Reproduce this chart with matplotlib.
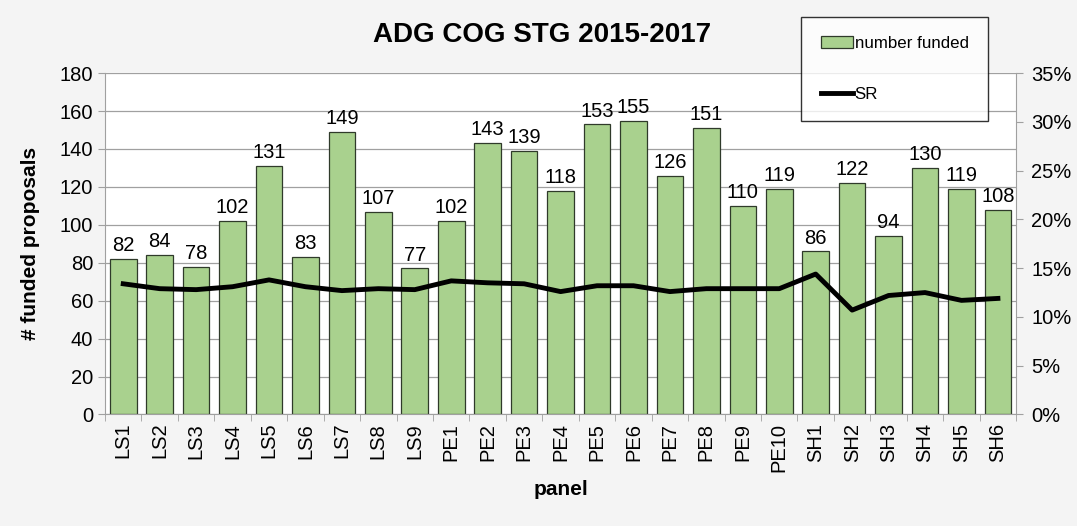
import matplotlib.pyplot as plt
import numpy as np
from matplotlib.ticker import PercentFormatter

plt.rcParams['font.family'] = ['Liberation Sans', 'DejaVu Sans']

panels = ['LS1', 'LS2', 'LS3', 'LS4', 'LS5', 'LS6', 'LS7', 'LS8', 'LS9',
          'PE1', 'PE2', 'PE3', 'PE4', 'PE5', 'PE6', 'PE7', 'PE8', 'PE9', 'PE10',
          'SH1', 'SH2', 'SH3', 'SH4', 'SH5', 'SH6']
funded = [82, 84, 78, 102, 131, 83, 149, 107, 77,
          102, 143, 139, 118, 153, 155, 126, 151, 110, 119,
          86, 122, 94, 130, 119, 108]
sr = [13.4, 12.9, 12.8, 13.1, 13.8, 13.1, 12.7, 12.9, 12.8,
      13.7, 13.5, 13.4, 12.6, 13.2, 13.2, 12.6, 12.9, 12.9, 12.9,
      14.4, 10.7, 12.2, 12.5, 11.7, 11.9]

fig = plt.figure(figsize=(10.77, 5.26), dpi=100, facecolor='#f4f4f4')
ax = fig.add_axes([0.0975, 0.212, 0.846, 0.649])
ax.set_facecolor('white')

x = np.arange(len(panels))
bars = ax.bar(x, funded, width=0.73, color='#a9d18e', edgecolor='#2f3a2a',
              linewidth=0.9, label='number funded', zorder=2)
for xi, v in zip(x, funded):
    ax.text(xi, v + 2, str(v), ha='center', va='bottom', fontsize=14.5)

ax.set_ylim(0, 180)
ax.set_yticks(range(0, 181, 20))
ax.set_xlim(-0.5, len(panels) - 0.5)
# category labels at centres, tick marks at category boundaries
ax.set_xticks(x)
ax.set_xticklabels(panels, rotation=90, fontsize=14.5)
ax.tick_params(axis='x', which='major', length=0, pad=6)
ax.set_xticks(np.arange(-0.5, len(panels), 1), minor=True)
ax.tick_params(axis='x', which='minor', length=5, color='#a0a0a0')
ax.tick_params(axis='y', labelsize=14.5, length=5, color='#a0a0a0')
ax.grid(axis='y', color='#a0a0a0', linewidth=0.9, zorder=0)
ax.set_axisbelow(True)
for s in ['top', 'right']:
    ax.spines[s].set_visible(False)
ax.spines['left'].set_color('#a0a0a0')
ax.spines['bottom'].set_color('#a0a0a0')
ax.set_ylabel('# funded proposals', fontsize=15, fontweight='bold', labelpad=14)
ax.set_xlabel('panel', fontsize=15, fontweight='bold', labelpad=6)

ax2 = ax.twinx()
line, = ax2.plot(x, sr, color='black', linewidth=3.5, label='SR', zorder=3)
ax2.set_ylim(0, 35)
ax2.set_yticks(range(0, 36, 5))
ax2.yaxis.set_major_formatter(PercentFormatter(decimals=0))
ax2.tick_params(axis='y', labelsize=14.5, length=5, color='#a0a0a0', pad=6)
for s in ['top', 'left', 'bottom']:
    ax2.spines[s].set_visible(False)
ax2.spines['right'].set_color('#a0a0a0')

fig.text(0.503, 0.934, 'ADG COG STG 2015-2017', ha='center', va='center',
         fontsize=20, fontweight='bold')

leg = fig.legend(handles=[bars, line], loc='upper left',
                 bbox_to_anchor=(0.744, 0.968), frameon=True, fancybox=False,
                 edgecolor='black', fontsize=12.2, labelspacing=2.1,
                 handlelength=1.9, handletextpad=0.1, borderpad=1.15,
                 borderaxespad=0)
leg.get_frame().set_linewidth(1.0)

fig.savefig('out.png', dpi=100, facecolor=fig.get_facecolor())
